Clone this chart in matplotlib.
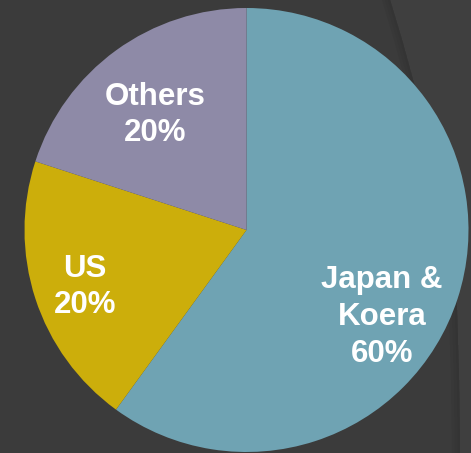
import matplotlib
matplotlib.use("Agg")
import matplotlib.pyplot as plt
import numpy as np
from matplotlib.patches import Polygon

labels = ["Japan &\nKoera", "US", "Others"]
values = [60, 20, 20]
colors = ["#6fa3b3", "#ccae0b", "#8e8aa7"]
pct_text = ["60%", "20%", "20%"]

W, H = 471, 453
fig = plt.figure(figsize=(W / 100, H / 100), dpi=100)
fig.patch.set_facecolor("#3b3b3b")
ax = fig.add_axes([0, 0, 1, 1])

# background decoration: lighter region to the right of a curve, with a soft shadow
cx_pts = np.array([390, 402, 413, 428, 442, 452, 457, 459, 460])
cy_pts = np.array([0, 40, 80, 130, 190, 250, 310, 380, 453])
curve = list(zip(cx_pts, H - cy_pts))
right_poly = curve + [(W, 0), (W, H)]
ax.add_patch(Polygon(right_poly, closed=True, facecolor="#3f3f3f", edgecolor="none", zorder=0))
for i, (off, col) in enumerate([(8, "#383838"), (5, "#363636"), (2, "#343434")]):
    band = [(x - off, y) for x, y in curve] + [(x, y) for x, y in curve[::-1]]
    ax.add_patch(Polygon(band, closed=True, facecolor=col, edgecolor="none", zorder=0.1 + i * 0.01))

center = (246.5, H - 230)
radius = 222
wedges, _ = ax.pie(values, colors=colors, startangle=90, counterclock=False,
                   center=center, radius=radius, frame=True,
                   wedgeprops=dict(linewidth=0))
ax.set_xlim(0, W)
ax.set_ylim(0, H)
ax.set_aspect("auto")
ax.axis("off")

label_pos = [(382, 317), (85, 287), (155, 115)]
for lab, pct, (x, y) in zip(labels, pct_text, label_pos):
    ax.text(x, H - y, f"{lab}\n{pct}", ha="center", va="center", color="white",
            fontsize=22.5, fontweight="bold", family="Liberation Sans",
            linespacing=1.3, zorder=5)

fig.savefig("out.png", dpi=100, facecolor=fig.get_facecolor())
